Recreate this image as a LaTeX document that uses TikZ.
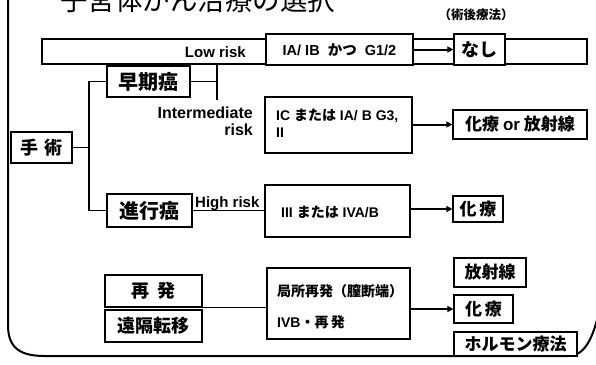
\documentclass[tikz,border=0pt]{standalone}
\usepackage{fontspec}
\setmainfont{Liberation Sans}
\newfontfamily\jp{Noto Sans CJK JP}
\usetikzlibrary{arrows.meta}
\tikzset{
  bx/.style={draw, line width=1.3pt, fill=white, inner sep=0pt, font=\bfseries},
  con/.style={line width=1.1pt},
  arr/.style={line width=2pt, -{Triangle[length=6pt,width=6pt]}},
  lab/.style={inner sep=0pt, font=\bfseries},
}
\newcommand{\fs}[1]{\fontsize{#1}{#1}\selectfont}
\begin{document}
\begin{tikzpicture}[x=1pt,y=-1pt]
\useasboundingbox (0,0) rectangle (596,364);
\clip (0,0) rectangle (596,364);
% title (cut at top, as in the reference)
\node[anchor=base west, inner sep=0pt] (title) at (60,10) {\jp\fs{27.5}子宮体がん治療の選択};
% frame
\draw[line width=2pt] (8,-5) -- (8,325) .. controls (8,348) and (20,356) .. (45,356) -- (568,356) .. controls (584,356) and (592,340) .. (598,316);
% low-risk band
\node[bx, minimum width=545pt, minimum height=25pt] (band) at (314.5,51.5) {};
\node[lab, anchor=east] (lowrisk) at (246,52) {\fs{15}Low risk};
\node[bx, minimum width=147pt, minimum height=31pt] (ia) at (339.5,49.5) {\fs{14.5}IA/ IB\ \ {\jp かつ}\ \ G1/2};
\node[bx, minimum width=51pt, minimum height=31pt] (nashi) at (479.5,49.5) {\jp\bfseries\fs{18}なし};
\node[lab] (postop) at (476,15) {\jp\bfseries\fs{12.5}（術後療法）};
% early / advanced
\node[bx, minimum width=83pt, minimum height=31pt] (soki) at (148.5,81.5) {\jp\bfseries\fs{20}早期癌};
\node[bx, minimum width=61pt, minimum height=31pt] (shujutsu) at (41.5,147.5) {\jp\bfseries\fs{18}手\hspace{7pt}術};
\node[bx, minimum width=85pt, minimum height=33pt] (shinko) at (149.5,210.5) {\jp\bfseries\fs{20}進行癌};
\coordinate (brk) at (89,147.5);
\draw[con] (soki.west) -- (89,81.5) -- (89,210.5) -- (shinko.west);
\draw[con] (shujutsu.east) -- (brk);
\coordinate (vtop) at (217,64);
\coordinate (vbot) at (217,100);
\draw[con] (vtop) -- (vbot);
\draw[con] (soki.east) -- (217,81.5);
\node[lab, anchor=base east] (inter1) at (253,118) {\fs{16}Intermediate};
\node[lab, anchor=base east] (inter2) at (253,135) {\fs{16}risk};
% IC box
\node[bx, minimum width=147pt, minimum height=56pt] (ic) at (338.5,125) {};
\node[lab, anchor=base west] (ic1) at (276,120) {\fs{14}IC {\jp または} IA/ B G3,};
\node[lab, anchor=base west] (ic2) at (276,137) {\fs{14}II};
\node[bx, minimum width=134pt, minimum height=29pt] (kaho) at (520,124.5) {\jp\bfseries\fs{17}化療 {\rmfamily or} 放射線};
\draw[arr] (ic.east |- kaho.west) -- (kaho.west);
% III box
\node[bx, minimum width=145pt, minimum height=52pt] (iii) at (337.5,211) {};
\node[lab, anchor=west] (iiit) at (281,212) {\fs{14}III {\jp または} IVA/B};
\draw[con] (shinko.east) -- (shinko.east -| iii.west);
\node[lab, anchor=base west] (high) at (195,207) {\fs{15}High risk};
\node[bx, minimum width=50pt, minimum height=26pt] (ka2) at (478,209) {\jp\bfseries\fs{17}化\,療};
\draw[arr] (iii.east |- ka2.west) -- (ka2.west);
\draw[arr] (ia.east) -- (nashi.west);
% recurrence
\node[bx, minimum width=97pt, minimum height=32pt] (saihatsu) at (153.5,291) {\jp\bfseries\fs{18}再\hspace{8pt}発};
\node[bx, minimum width=97pt, minimum height=32pt] (enkaku) at (153.5,326) {\jp\bfseries\fs{18}遠隔転移};
\node[bx, minimum width=143pt, minimum height=71pt] (kyoku) at (338.5,303.5) {};
\node[lab, anchor=base west] (k1) at (277,296) {\jp\bfseries\fs{14}局所再発（膣断端）};
\node[lab, anchor=base west] (k2) at (277,327) {\fs{14}IVB{\jp ・再\,発}};
\draw[con] (saihatsu.south east) -- (saihatsu.south east -| kyoku.west);
\node[bx, minimum width=72pt, minimum height=29pt] (hosha) at (490,272.5) {\jp\bfseries\fs{17}放射線};
\node[bx, minimum width=59pt, minimum height=28pt] (ka3) at (483.5,309) {\jp\bfseries\fs{17}化\,療};
\node[bx, minimum width=123pt, minimum height=24pt] (horu) at (515.5,344) {\jp\bfseries\fs{17}ホルモン療法};
\draw[arr] (kyoku.east |- ka3.west) -- (ka3.west);
\end{tikzpicture}
\end{document}
